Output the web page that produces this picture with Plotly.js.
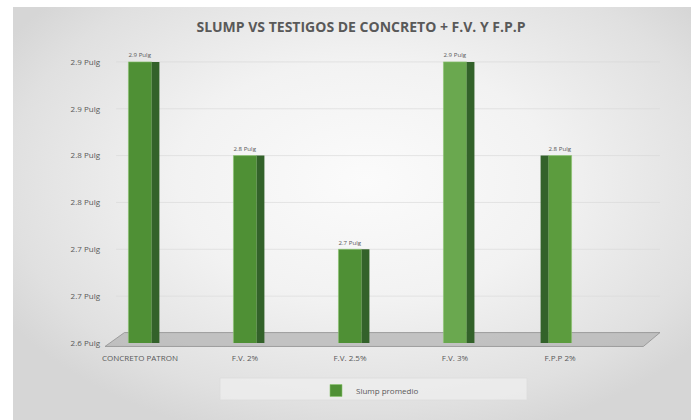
<!DOCTYPE html>
<html>
<head>
<meta charset="utf-8">
<script src="https://cdn.plot.ly/plotly-3.0.1.min.js"></script>
<style>
  html, body { margin: 0; padding: 0; background: #ffffff; }
  #wrap { position: relative; width: 691px; height: 420px; overflow: hidden; background: #ffffff; }
  #bg { position: absolute; left: 13px; top: 7px; width: 678px; height: 413px;
        background: radial-gradient(ellipse 62% 65% at 52% 42%, #fbfbfb 0%, #f2f2f2 45%, #e0e0e0 85%, #d6d6d6 100%); }
  #chart { position: absolute; left: 0; top: 0; width: 691px; height: 420px; }
</style>
</head>
<body>
<div id="wrap">
  <div id="bg"></div>
  <div id="chart"></div>
</div>
<script>
// ---- data ----
const categories = ["CONCRETO PATRON", "F.V. 2%", "F.V. 2.5%", "F.V. 3%", "F.P.P 2%"];
const slumpValues = [2.9, 2.8, 2.7, 2.9, 2.8];
const valueLabels = ["2.9 Pulg", "2.8 Pulg", "2.7 Pulg", "2.9 Pulg", "2.8 Pulg"];
const tickValues = [2.6, 2.65, 2.7, 2.75, 2.8, 2.85, 2.9];
const tickLabels = ["2.6 Pulg", "2.7 Pulg", "2.7 Pulg", "2.8 Pulg", "2.8 Pulg", "2.9 Pulg", "2.9 Pulg"];
const seriesName = "Slump promedio";
const chartTitle = "SLUMP VS TESTIGOS DE CONCRETO + F.V. Y F.P.P";

// ---- styling ----
const frontColors = ["#4f9035", "#4f9035", "#4f9035", "#6aa84f", "#5c9c3e"];
const sideColor = "#33622a";
const frontWidth = 0.22, sideWidth = 0.075;
const sideOffsets = [0.11, 0.11, 0.11, 0.11, -0.11 - sideWidth];
const fontFam = "'Liberation Sans Narrow', 'Open Sans', Arial, sans-serif";

const front = {
  type: "bar", x: categories, y: slumpValues, name: seriesName,
  width: frontWidth, offset: -frontWidth / 2,
  marker: { color: frontColors, line: { color: "#8cc46e", width: 0.6 } },
  text: valueLabels, textposition: "outside", cliponaxis: false,
  textfont: { family: fontFam, size: 8, color: "#595959" },
  hoverinfo: "x+y"
};
const side = {
  type: "bar", x: categories, y: slumpValues, name: seriesName,
  width: sideWidth, offset: sideOffsets, showlegend: false,
  marker: { color: sideColor, line: { width: 0 } }, hoverinfo: "skip"
};

// gridlines (back wall) drawn for each tick value
const shapes = tickValues.slice(1).map(v => ({
  type: "line", xref: "paper", yref: "y", layer: "below",
  x0: 0.02, x1: 1.0, y0: v, y1: v,
  line: { color: "rgba(215,215,215,0.6)", width: 1 }
}));
// floor
shapes.push({
  type: "path", xref: "paper", yref: "paper", layer: "below",
  path: "M 0.0 -0.012 L 0.97 -0.012 L 1.0 0.036 L 0.035 0.036 Z",
  fillcolor: "rgba(180,180,180,0.75)", line: { color: "rgba(145,145,145,0.8)", width: 1 }
});
// legend box
shapes.push({
  type: "rect", xref: "paper", yref: "paper", layer: "below",
  x0: (220 - 105) / 555, x1: (527 - 105) / 555, y0: (343 - 400) / 290, y1: (343 - 378) / 290,
  fillcolor: "rgba(240,240,240,0.7)", line: { color: "rgba(220,220,220,0.8)", width: 1 }
});

const layout = {
  width: 691, height: 420,
  margin: { l: 105, r: 31, t: 53, b: 77 },
  paper_bgcolor: "rgba(0,0,0,0)", plot_bgcolor: "rgba(0,0,0,0)",
  barmode: "overlay",
  title: {
    text: "<b>" + chartTitle + "</b>",
    font: { family: fontFam, size: 14, color: "#595959" },
    x: 361 / 691, xref: "container", xanchor: "center",
    y: 1 - 27 / 420, yref: "container", yanchor: "middle"
  },
  xaxis: {
    type: "category", range: [-0.333, 4.952],
    showgrid: false, showline: false, zeroline: false, ticks: "",
    ticklabelstandoff: 9,
    tickfont: { family: fontFam, size: 8, color: "#595959" }
  },
  yaxis: {
    range: [2.6, 2.9095], tickvals: tickValues, ticktext: tickLabels,
    showgrid: false, showline: false, zeroline: false, ticks: "",
    ticklabelstandoff: 4,
    tickfont: { family: fontFam, size: 8, color: "#595959" }
  },
  showlegend: true,
  legend: {
    orientation: "h", x: (316 - 105) / 555, xanchor: "left",
    y: (343 - 376) / 290, yanchor: "top", bgcolor: "rgba(0,0,0,0)",
    itemwidth: 30,
    font: { family: fontFam, size: 8, color: "#595959" }
  },
  shapes: shapes
};

Plotly.newPlot("chart", [front, side], layout, { displayModeBar: false, staticPlot: true });
</script>
</body>
</html>
